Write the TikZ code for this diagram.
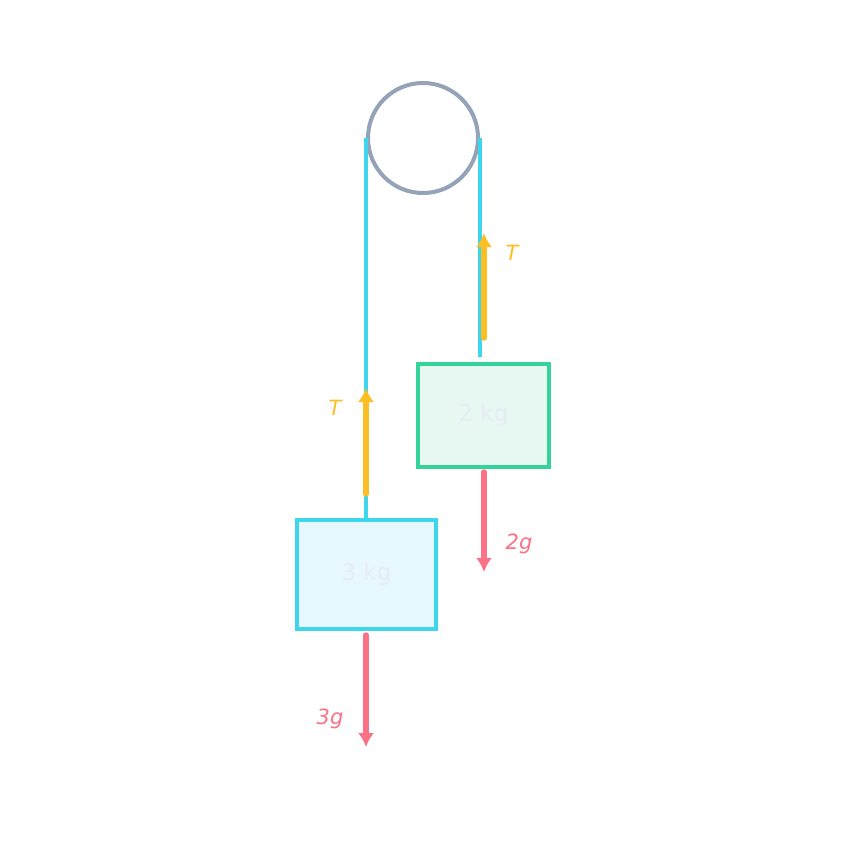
\documentclass[tikz,border=0pt]{standalone}
\usepackage{fontspec}
\setmainfont{DejaVu Sans}
\usetikzlibrary{arrows.meta,positioning,calc}
\definecolor{ropecol}{HTML}{3DD6EC}
\definecolor{greencol}{HTML}{34D399}
\definecolor{tensioncol}{HTML}{FBBF24}
\definecolor{weightcol}{HTML}{FB7185}
\definecolor{pulleycol}{HTML}{94A3B8}
\definecolor{greenfill}{HTML}{E6F8F1}
\definecolor{cyanfill}{HTML}{E6F8FC}
\definecolor{masstext}{HTML}{E8EBF6}

\begin{document}
\begin{tikzpicture}[
    x=1pt, y=-1pt,
    rope/.style={draw=ropecol, line width=4.5pt},
    mass/.style={rectangle, line width=4.5pt, inner sep=0pt, text=masstext,
        font=\fontsize{23}{27}\selectfont},
    forcearrow/.style={line width=5.5pt, line cap=round, -{Latex[length=14pt,width=16pt]}},
    flabel/.style={font=\fontsize{21}{25}\selectfont\itshape}
]
    \useasboundingbox (0,0) rectangle (846,846);
    \node[circle, draw=pulleycol, line width=4pt, minimum size=110pt, inner sep=0pt] (pulley) at (423,138) {};
    \node[mass, draw=greencol, fill=greenfill, minimum width=131pt, minimum height=103pt] (m2) at (483.5,415.5) {2 kg};
    \node[mass, draw=ropecol, fill=cyanfill, minimum width=139pt, minimum height=109pt] (m3) at (366.5,574.5) {3 kg};

    % ropes
    \coordinate (hookA) at (480,357);
    \draw[rope] (pulley.west) -- (pulley.west |- m3.north);
    \draw[rope] (pulley.east) -- (hookA);

    % forces
    \coordinate (tA) at (484,338);
    \coordinate (tB) at (484,233);
    \coordinate (tC) at (366,494);
    \coordinate (tD) at (366,388);
    \coordinate (wA) at (484,472);
    \coordinate (wB) at (484,572);
    \coordinate (wC) at (366,635);
    \coordinate (wD) at (366,747);
    \draw[forcearrow, draw=tensioncol] (tA) -- (tB);
    \draw[forcearrow, draw=tensioncol] (tC) -- (tD);
    \draw[forcearrow, draw=weightcol] (wA) -- (wB);
    \draw[forcearrow, draw=weightcol] (wC) -- (wD);
    \node[flabel, text=tensioncol] (labT1) at (512,253) {T};
    \node[flabel, text=tensioncol] (labT2) at (335,408) {T};
    \node[flabel, text=weightcol] (lab2g) at (519,544) {2\textit{g}};
    \node[flabel, text=weightcol] (lab3g) at (330,719) {3\textit{g}};
\end{tikzpicture}
\end{document}
